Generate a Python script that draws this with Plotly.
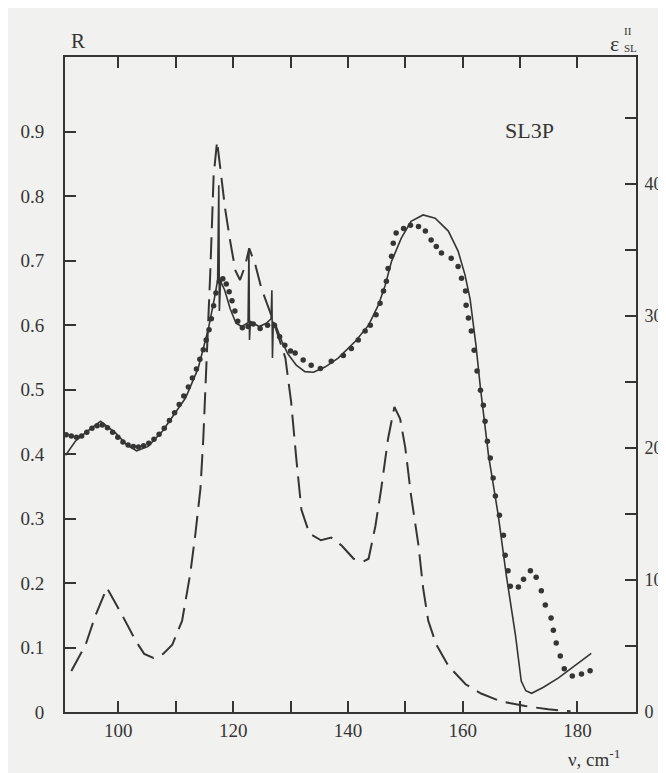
import plotly.graph_objects as go

# ---- data ----
# calculated reflectivity R (solid line), left axis
calc_nu = [90.8, 92.5, 94.5, 96.9, 99.5, 101.5, 103.2, 105.2, 107.7, 110.5, 111.7, 113.9,
           115.7, 116.7, 117.3, 117.5, 117.6, 117.8, 118.5, 119.5, 120.5, 121.5, 122.6,
           122.75, 122.85, 123.0, 124.5, 125.8, 126.6, 126.75, 126.85, 127.0, 127.5, 128.5,
           129.5, 131.0, 132.5, 134.0, 136.0, 138.3, 141.3, 143.6, 145.3, 146.5, 147.6,
           149.3, 151.0, 153.1, 155.2, 157.5, 159.2, 160.4, 161.3, 162.3, 163.1, 164.5,
           166.2, 167.6, 169.2, 170.2, 171.0, 172.0, 174.0, 176.7, 179.5, 182.4]
calc_R = [0.398, 0.420, 0.435, 0.451, 0.433, 0.414, 0.405, 0.412, 0.436, 0.471, 0.487, 0.533,
          0.595, 0.640, 0.670, 0.817, 0.622, 0.668, 0.655, 0.625, 0.603, 0.598, 0.604,
          0.716, 0.577, 0.606, 0.598, 0.603, 0.610, 0.654, 0.549, 0.605, 0.598, 0.575,
          0.556, 0.538, 0.528, 0.527, 0.535, 0.549, 0.575, 0.600, 0.631, 0.662, 0.699,
          0.735, 0.761, 0.771, 0.766, 0.746, 0.715, 0.678, 0.640, 0.570, 0.502, 0.398,
          0.305, 0.212, 0.119, 0.048, 0.033, 0.029, 0.038, 0.053, 0.072, 0.091]

# experimental reflectivity R (dots), left axis
exp_nu = [90.9, 91.8, 92.7, 93.6, 94.5, 95.4, 96.3, 97.2, 98.1, 99.0, 99.9, 100.8, 101.7,
          102.6, 103.5, 104.4, 105.3, 106.2, 107.1, 108.0, 108.9, 109.8, 110.6, 111.4,
          112.2, 112.9, 113.6, 114.2, 114.8, 115.3, 115.8, 116.2, 116.6, 117.0, 117.6,
          118.2, 118.8, 119.3, 119.8, 120.3, 120.8, 121.6, 122.6, 123.5, 124.7, 126.0,
          127.2, 128.1, 129.0, 130.0, 130.8, 132.2, 133.6, 135.2, 137.1, 139.2, 140.6,
          141.8, 143.0, 143.9, 144.9, 145.6, 146.2, 146.7, 147.0, 147.6, 147.9, 148.4,
          149.7, 150.9, 152.3, 153.5, 154.5, 155.4, 156.3, 158.0, 159.2, 159.8, 160.5,
          160.6, 161.0, 161.5, 162.0, 162.5, 163.1, 163.6, 163.9, 164.3, 164.8, 165.3,
          165.7, 166.4, 167.1, 167.4, 167.9, 168.3, 169.7, 170.6, 171.8, 172.8, 173.7,
          174.4, 175.4, 175.8, 176.3, 177.0, 177.7, 179.1, 180.7, 182.2]
exp_R = [0.430, 0.428, 0.426, 0.428, 0.434, 0.440, 0.444, 0.445, 0.441, 0.434, 0.426, 0.419,
         0.414, 0.412, 0.411, 0.413, 0.417, 0.423, 0.431, 0.440, 0.452, 0.464, 0.477, 0.490,
         0.504, 0.518, 0.532, 0.547, 0.562, 0.577, 0.593, 0.610, 0.630, 0.650, 0.668,
         0.672, 0.664, 0.652, 0.638, 0.622, 0.606, 0.596, 0.598, 0.602, 0.595, 0.600,
         0.600, 0.582, 0.569, 0.560, 0.557, 0.546, 0.538, 0.533, 0.544, 0.553, 0.564,
         0.577, 0.591, 0.600, 0.616, 0.634, 0.653, 0.668, 0.688, 0.707, 0.727, 0.743,
         0.750, 0.755, 0.753, 0.746, 0.732, 0.722, 0.712, 0.704, 0.691, 0.673, 0.653,
         0.631, 0.611, 0.591, 0.561, 0.529, 0.499, 0.476, 0.451, 0.420, 0.394, 0.363,
         0.335, 0.305, 0.274, 0.243, 0.219, 0.195, 0.194, 0.206, 0.219, 0.209, 0.188,
         0.166, 0.146, 0.127, 0.107, 0.087, 0.067, 0.056, 0.059, 0.064]

# imaginary dielectric function eps''_SL (dashed), right axis
eps_nu = [91.8, 94.3, 96.0, 98.0, 100.7, 103.0, 104.5, 106.1, 107.8, 109.4, 111.1, 112.5,
          113.4, 114.3, 114.8, 115.2, 116.0, 116.3, 116.6, 117.2, 117.9, 118.6, 119.5,
          120.4, 121.2, 122.1, 122.8, 123.9, 124.9, 126.1, 127.0, 129.1, 130.1, 131.0,
          131.9, 133.3, 135.3, 137.1, 138.9, 141.0, 142.7, 143.6, 144.8, 145.8, 147.0,
          148.1, 149.1, 150.0, 151.0, 152.3, 153.1, 154.0, 155.4, 157.5, 160.5, 163.2,
          166.7, 170.9, 174.9, 178.8]
eps_val = [3.1, 5.1, 7.3, 9.4, 7.3, 5.4, 4.4, 4.1, 4.4, 5.1, 6.9, 10.4,
           13.4, 16.9, 20.7, 24.5, 33.1, 36.8, 40.6, 43.2, 40.6, 38.1, 35.6,
           33.4, 32.7, 33.8, 35.1, 33.8, 32.1, 30.6, 29.6, 26.8, 23.5, 19.2,
           15.3, 13.5, 13.0, 13.2, 12.6, 11.6, 11.4, 11.6, 14.1, 16.9, 20.7,
           23.1, 22.2, 20.0, 16.4, 12.6, 9.4, 6.9, 5.1, 3.5, 2.1, 1.4,
           0.8, 0.45, 0.2, 0.05]

x_ticks = [100, 110, 120, 130, 140, 150, 160, 170, 180]
x_labels = ["100", "", "120", "", "140", "", "160", "", "180"]
r_ticks = [0, 0.1, 0.2, 0.3, 0.4, 0.5, 0.6, 0.7, 0.8, 0.9]
r_labels = ["0", "0.1", "0.2", "0.3", "0.4", "0.5", "0.6", "0.7", "0.8", "0.9"]
e_ticks = [0, 5, 10, 15, 20, 25, 30, 35, 40, 45]
e_labels = ["0", "", "10", "", "20", "", "30", "", "40", ""]

INK = "#353535"
BG = "#f1f1ef"
FONT = "'Liberation Serif', 'DejaVu Serif', 'Times New Roman', serif"
R_MAX = 1.016
E_PER_R = 48.8

fig = go.Figure()
fig.add_trace(go.Scatter(x=eps_nu, y=eps_val, mode="lines", yaxis="y2",
                         line=dict(color=INK, width=2, dash="22px,9px"),
                         showlegend=False, hoverinfo="skip"))
fig.add_trace(go.Scatter(x=calc_nu, y=calc_R, mode="lines",
                         line=dict(color=INK, width=1.6), showlegend=False))
fig.add_trace(go.Scatter(x=exp_nu, y=exp_R, mode="markers",
                         marker=dict(color=INK, size=5.5), showlegend=False))
# invisible trace to carry the top axis
fig.add_trace(go.Scatter(x=[100], y=[None], xaxis="x2", mode="markers",
                         showlegend=False, hoverinfo="skip"))

axis_common = dict(showgrid=False, zeroline=False, showline=True, linecolor=INK,
                   linewidth=2, ticks="inside", ticklen=11, tickwidth=2, tickcolor=INK,
                   tickfont=dict(family=FONT, size=19, color=INK))
right_axis = dict(axis_common, tickfont=dict(family=FONT, size=18, color=INK))


def label(text, x, y, size, yshift=0):
    return dict(text=text, x=x, y=y, xref="paper", yref="paper", yshift=yshift,
                xanchor="center", yanchor="middle", showarrow=False,
                font=dict(family=FONT, size=size, color=INK))


fig.update_layout(
    width=666, height=773,
    margin=dict(l=57, r=38, t=49, b=69),
    paper_bgcolor=BG, plot_bgcolor=BG,
    font=dict(family=FONT, color=INK),
    xaxis=dict(range=[90.7, 190.2], tickvals=x_ticks, ticktext=x_labels,
               ticklabelstandoff=0, **axis_common),
    xaxis2=dict(range=[90.7, 190.2], overlaying="x", side="top", tickvals=x_ticks,
                showticklabels=False, **axis_common),
    yaxis=dict(range=[0, R_MAX], tickvals=r_ticks, ticktext=r_labels,
               ticklabelstandoff=15, **axis_common),
    yaxis2=dict(range=[0, R_MAX * E_PER_R], overlaying="y", side="right",
                tickvals=e_ticks, ticktext=e_labels, ticklabelstandoff=3, **right_axis),
    annotations=[
        label("R", 0.023, 1, 21, yshift=16),
        label("ε", 0.963, 1, 22, yshift=14),
        label("II", 0.986, 1, 11, yshift=26),
        label("SL", 0.990, 1, 11, yshift=9),
        label("SL3P", 0.814, 0.8885, 22),
        label("ν, cm<sup>-1</sup>", 0.926, 0, 19, yshift=-46),
    ],
)

fig.write_html("out.html")
